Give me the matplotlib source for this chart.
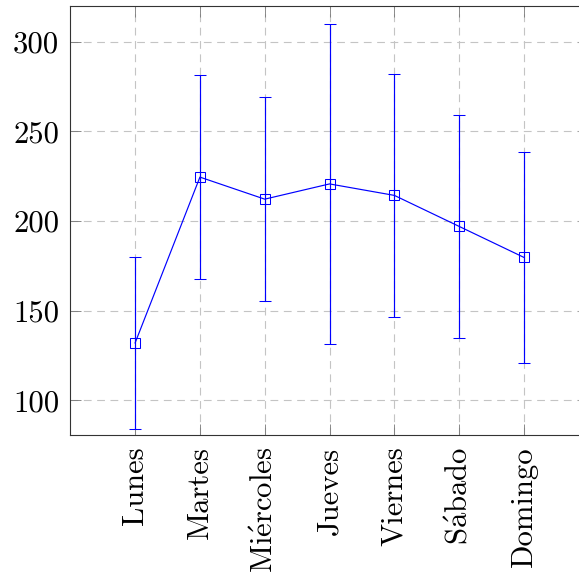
import numpy as np
import matplotlib.pyplot as plt

plt.rcParams['font.family'] = ['cmr10', 'DejaVu Serif']
plt.rcParams['mathtext.fontset'] = 'cm'
plt.rcParams['axes.formatter.use_mathtext'] = True

# Promedio por dia de la semana con su desviacion
dias = ['Lunes', 'Martes', r'Mi$\acute{\mathrm{e}}$rcoles', 'Jueves', 'Viernes',
        r'S$\acute{\mathrm{a}}$bado', 'Domingo']
promedio = [132.0, 224.5, 212.2, 220.7, 214.3, 197.0, 179.7]
desviacion = [48.0, 57.0, 56.8, 89.4, 67.8, 62.2, 59.0]
yticks = [100, 150, 200, 250, 300]

x = np.arange(len(dias))

fig = plt.figure(figsize=(5.79, 5.76), dpi=100)
ax = fig.add_axes([0.1214, 0.2443, 0.8955, 0.7458])

ax.errorbar(x, promedio, yerr=desviacion, color='blue', linewidth=0.85,
            elinewidth=0.85, capsize=4, capthick=0.85,
            marker='s', markersize=7.9, markerfacecolor='none',
            markeredgecolor='blue', markeredgewidth=0.75, zorder=3)

ax.set_xlim(-1, 7)
ax.set_ylim(80.5, 320.1)
ax.set_xticks(x)
ax.set_xticklabels(dias, rotation=90, ha='center', va='top', fontsize=22.1)
ax.set_yticks(yticks)
ax.set_yticklabels([str(v) for v in yticks], fontsize=22.1)

ax.grid(True, color='#c4c4c4', linestyle=(0, (7, 5)), linewidth=0.8)
ax.set_axisbelow(True)
ax.tick_params(direction='in', length=8, width=0.6, color='#777777',
               top=True, right=True, pad=8)
for s in ax.spines.values():
    s.set_linewidth(0.8)
    s.set_color('#333333')

fig.savefig('out.png', dpi=100)
